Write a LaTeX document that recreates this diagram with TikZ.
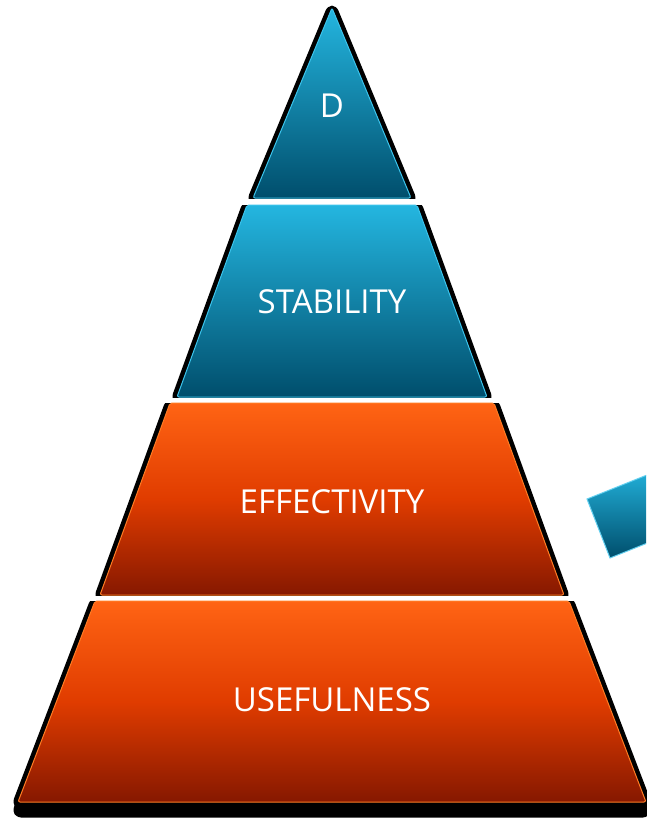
\documentclass[tikz,border=0pt]{standalone}
\usepackage{fontspec}
\setmainfont{Open Sans}
\definecolor{bluetop}{HTML}{24B6E0}
\definecolor{bluebot}{HTML}{004E6C}
\definecolor{blueedge}{HTML}{3CC4EC}
\definecolor{orangetop}{HTML}{FF6414}
\definecolor{orangemid}{HTML}{E03C00}
\definecolor{orangebot}{HTML}{861800}
\definecolor{orangeedge}{HTML}{FF7C24}
\tikzset{
  shadowpart/.style={fill=black,draw=black,line width=11pt,line join=round,rounded corners=3pt},
  bluepart/.style={top color=bluetop,bottom color=bluebot,draw=blueedge,line width=1pt,rounded corners=2pt},
  orangepart/.style={top color=orangetop,bottom color=orangebot,middle color=orangemid,draw=orangeedge,line width=1pt,rounded corners=2pt},
  gapbar/.style={fill=white},
  lbl/.style={text=white,font=\fontsize{33}{33}\selectfont}
}
\begin{document}
\begin{tikzpicture}[x=1pt,y=-1pt]
	\useasboundingbox (0,0) rectangle (646,820);
	% define coordinates
	\coordinate (T0) at (332,8);
	\coordinate (T1) at (253,198);  \coordinate (T2) at (411,198);
	\coordinate (S1) at (247,205);  \coordinate (S2) at (417,205);
	\coordinate (S3) at (487,397);  \coordinate (S4) at (177,397);
	\coordinate (E1) at (170,403);  \coordinate (E2) at (494,403);
	\coordinate (E3) at (564,595);  \coordinate (E4) at (100,595);
	\coordinate (U1) at (95,601);   \coordinate (U2) at (569,601);
	\coordinate (U3) at (646,802);  \coordinate (U4) at (18,802);
	% shadows
	\begin{scope}[transform canvas={yshift=-1.5pt}]
	\filldraw[shadowpart] (T0) -- (T2) -- (T1) -- cycle;
	\filldraw[shadowpart] (S1) -- (S2) -- (S3) -- (S4) -- cycle;
	\filldraw[shadowpart] (E1) -- (E2) -- (E3) -- (E4) -- cycle;
	\filldraw[shadowpart] (U1) -- (U2) -- (U3) -- (U4) -- cycle;
	\end{scope}
	\begin{scope}[transform canvas={yshift=-10pt}]
	\filldraw[shadowpart] (U1) -- (U2) -- (U3) -- (U4) -- cycle;
	\end{scope}
	% gaps between the layers
	\fill[gapbar] (230,198.5) rectangle (434,204.5);
	\fill[gapbar] (155,397.5) rectangle (510,402.5);
	\fill[gapbar] (80,595.5) rectangle (585,600.5);
	% layers
	\draw[bluepart] (T0) -- (T2) -- (T1) -- cycle;
	\draw[bluepart] (S1) -- (S2) -- (S3) -- (S4) -- cycle;
	\draw[orangepart] (E1) -- (E2) -- (E3) -- (E4) -- cycle;
	\draw[orangepart] (U1) -- (U2) -- (U3) -- (U4) -- cycle;
	% labels
	\node[lbl] (d) at (332,106) {D};
	\node[lbl] (stab) at (332,302) {STABILITY};
	\node[lbl] (eff) at (332,502) {EFFECTIVITY};
	\node[lbl] (use) at (332,700) {USEFULNESS};
	% side block
	\begin{scope}
	\clip (560,440) rectangle (646,600);
	\draw[bluepart,rounded corners=0pt,draw=blueedge!80] (587,499) -- (672,465) -- (695,524) -- (610,558) -- cycle;
	\end{scope}
\end{tikzpicture}
\end{document}
